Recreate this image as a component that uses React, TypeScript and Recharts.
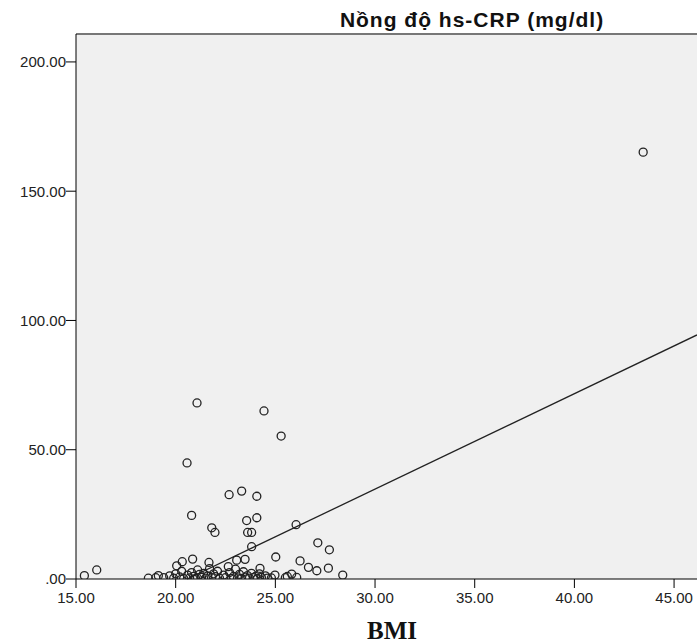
import { ScatterChart, Scatter, XAxis, YAxis, CartesianGrid, ReferenceLine } from 'recharts';

// BMI vs hs-CRP (mg/dl)
const bmi = [
  43.45, 21.07, 24.43, 25.29, 20.57,
  22.68, 23.31, 24.07, 20.80, 24.07, 23.56, 21.81, 21.97, 23.61, 23.81,
  26.04, 23.81, 27.13, 27.71, 25.02, 26.24, 26.66, 27.08, 27.66, 28.38,
  16.04, 15.42, 20.85, 20.33, 20.05, 21.67, 23.48, 23.06, 22.64, 24.23,
  25.82, 24.98, 26.07, 18.63, 19.13, 19.0,
  19.4, 19.7, 19.9, 20.0, 20.2, 20.3, 20.4, 20.6, 20.7, 20.8, 20.9, 21.0,
  21.1, 21.2, 21.3, 21.4, 21.5, 21.6, 21.7, 21.8, 21.9, 22.0, 22.1, 22.2,
  22.4, 22.5, 22.7, 22.8, 22.9, 23.0, 23.1, 23.2, 23.3, 23.4, 23.5, 23.6,
  23.7, 23.8, 23.9, 24.0, 24.1, 24.2, 24.3, 24.5, 24.6, 24.8, 25.5, 25.6,
];
const crp = [
  165.1, 68.1, 65.0, 55.3, 44.9,
  32.6, 34.0, 32.0, 24.6, 23.7, 22.6, 19.8, 18.0, 18.0, 18.0,
  21.0, 12.5, 14.0, 11.3, 8.5, 7.0, 4.5, 3.2, 4.2, 1.5,
  3.5, 1.3, 7.7, 6.7, 5.1, 6.4, 7.6, 7.3, 4.8, 4.1,
  1.9, 1.5, 0.6, 0.3, 1.3, 0.5,
  0.5, 1.2, 0.3, 2.0, 0.8, 3.0, 0.2, 1.5, 0.4, 2.5, 1.0, 0.2,
  3.5, 1.8, 0.6, 2.2, 0.3, 1.2, 4.0, 0.5, 2.0, 0.9, 3.0, 0.3,
  1.5, 0.5, 2.5, 0.2, 1.0, 3.8, 0.4, 1.8, 0.2, 2.8, 0.7, 1.3,
  0.3, 2.2, 0.5, 1.0, 0.2, 2.0, 0.6, 1.2, 0.3, 0.4, 0.5, 1.0,
];
const fitBmi = [20.58, 46.15];
const fitCrp = [0, 94.4];
const xTicks = [15, 20, 25, 30, 35, 40, 45];
const yTicks = [0, 50, 100, 150, 200];

const points = bmi.map((x, i) => ({ x, y: crp[i] }));

const Ring = (p: any) => (
  <circle cx={p.cx} cy={p.cy} r={4} fill="none" stroke="#222" strokeWidth={1.3} />
);

const tickStyle = { fontSize: 15, fill: '#222', fontFamily: 'Liberation Sans, Arial, sans-serif' };

export default function App() {
  return (
    <div style={{ position: 'relative', width: 697, height: 644, background: '#fff' }}>
      <style>{'body{margin:0}'}</style>
      <ScatterChart width={697} height={644} margin={{ top: 34, right: 0, bottom: 0, left: 0 }}>
        <CartesianGrid fill="#f0f0f0" horizontal={false} vertical={false} />
        <XAxis
          type="number"
          dataKey="x"
          domain={[15, 46.15]}
          allowDataOverflow
          ticks={xTicks}
          tickFormatter={(v: number) => v.toFixed(2)}
          tick={tickStyle}
          tickSize={9}
          tickMargin={4}
          height={65}
          axisLine={{ stroke: '#000' }}
          tickLine={{ stroke: '#000' }}
        />
        <YAxis
          type="number"
          dataKey="y"
          domain={[0, 210.8]}
          allowDataOverflow
          ticks={yTicks}
          tickFormatter={(v: number) => (v === 0 ? '.00' : v.toFixed(2))}
          tick={tickStyle}
          tickSize={10}
          tickMargin={0}
          width={76}
          axisLine={{ stroke: '#000' }}
          tickLine={{ stroke: '#000' }}
        />
        <ReferenceLine y={210.8} stroke="#777" strokeWidth={2} />
        <ReferenceLine
          segment={[{ x: fitBmi[0], y: fitCrp[0] }, { x: fitBmi[1], y: fitCrp[1] }]}
          stroke="#222"
          strokeWidth={1.3}
        />
        <Scatter data={points} shape={Ring} isAnimationActive={false} />
      </ScatterChart>
      <svg width={697} height={644} style={{ position: 'absolute', left: 0, top: 0, pointerEvents: 'none' }}>
        <text x={472} y={27} textAnchor="middle" fontSize={21} fontWeight="bold" letterSpacing={1}
          fontFamily="Liberation Sans, Arial, sans-serif" fill="#111">
          Nồng độ hs-CRP (mg/dl)
        </text>
        <text x={392} y={639} textAnchor="middle" fontSize={25} fontWeight="bold"
          fontFamily="Liberation Serif, Times New Roman, serif" fill="#111">
          BMI
        </text>
      </svg>
    </div>
  );
}
